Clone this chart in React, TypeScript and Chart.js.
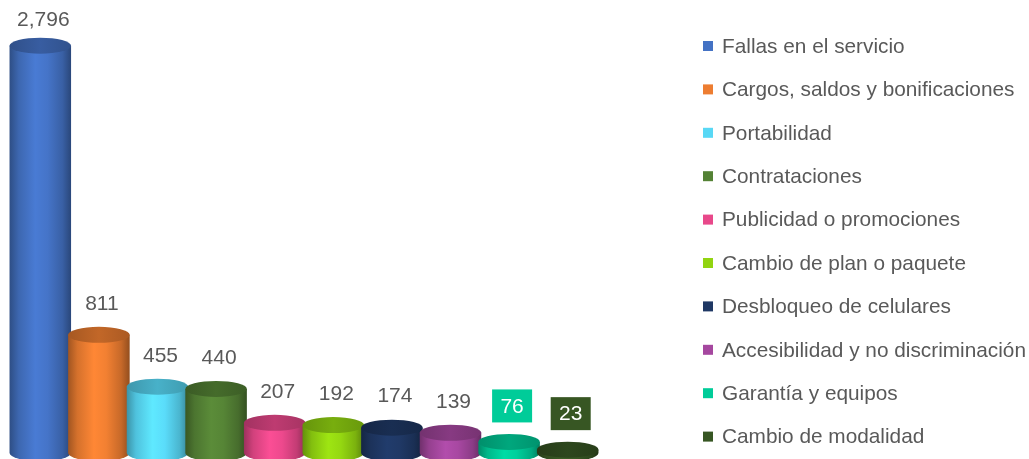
import React, { useEffect, useRef } from "react";
import { Chart, registerables } from "chart.js";

Chart.register(...registerables);

const categories = [
  "Fallas en el servicio",
  "Cargos, saldos y bonificaciones",
  "Portabilidad",
  "Contrataciones",
  "Publicidad o promociones",
  "Cambio de plan o paquete",
  "Desbloqueo de celulares",
  "Accesibilidad y no discriminación",
  "Garantía y equipos",
  "Cambio de modalidad",
];
const values = [2796, 811, 455, 440, 207, 192, 174, 139, 76, 23];
const colors = [
  "#4472C4",
  "#ED7D31",
  "#58D8F5",
  "#548235",
  "#E8488A",
  "#92D411",
  "#1F3864",
  "#A5479F",
  "#00CC99",
  "#375623",
];
const boxedLabels = [false, false, false, false, false, false, false, false, true, true];

function shade(hex: string, f: number): string {
  const n = parseInt(hex.slice(1), 16);
  const r = Math.min(255, Math.round(((n >> 16) & 255) * f));
  const g = Math.min(255, Math.round(((n >> 8) & 255) * f));
  const b = Math.min(255, Math.round((n & 255) * f));
  return `rgb(${r},${g},${b})`;
}

const FONT = '"Liberation Sans", Arial, sans-serif';
const TEXT = "#595959";

const cylinderPlugin = {
  id: "cylinders",
  afterDatasetsDraw(chart: any) {
    const ctx: CanvasRenderingContext2D = chart.ctx;
    const meta = chart.getDatasetMeta(0);
    const ry = 8;
    ctx.save();
    meta.data.forEach((el: any, i: number) => {
      const col = colors[i];
      const rx = (el.width * 1.05) / 2;
      const cx = el.x;
      const top = el.y;
      const base = el.base;
      const g = ctx.createLinearGradient(cx - rx, 0, cx + rx, 0);
      g.addColorStop(0, shade(col, 0.68));
      g.addColorStop(0.15, shade(col, 0.9));
      g.addColorStop(0.42, shade(col, 1.08));
      g.addColorStop(0.62, shade(col, 1.02));
      g.addColorStop(0.86, shade(col, 0.84));
      g.addColorStop(1, shade(col, 0.62));
      ctx.beginPath();
      ctx.moveTo(cx - rx, top);
      ctx.lineTo(cx - rx, base);
      ctx.ellipse(cx, base, rx, ry, 0, Math.PI, 0, true);
      ctx.lineTo(cx + rx, top);
      ctx.closePath();
      ctx.fillStyle = g;
      ctx.fill();
      const gt = ctx.createLinearGradient(cx - rx, 0, cx + rx, 0);
      gt.addColorStop(0, shade(col, 0.7));
      gt.addColorStop(0.5, shade(col, 0.82));
      gt.addColorStop(1, shade(col, 0.72));
      ctx.beginPath();
      ctx.ellipse(cx, top, rx, ry, 0, 0, Math.PI * 2);
      ctx.fillStyle = gt;
      ctx.fill();
    });

    ctx.textAlign = "center";
    ctx.textBaseline = "middle";
    meta.data.forEach((el: any, i: number) => {
      const txt = values[i].toLocaleString("en-US");
      if (boxedLabels[i]) {
        ctx.font = `21px ${FONT}`;
        const cy = el.y - 36;
        const cx = el.x + 3;
        const w = 40;
        const h = 33;
        ctx.fillStyle = colors[i];
        ctx.fillRect(cx - w / 2, cy - h / 2, w, h);
        ctx.fillStyle = "#ffffff";
        ctx.fillText(txt, cx, cy + 1);
      } else {
        ctx.font = `21px ${FONT}`;
        const cy = Math.max(20, el.y - 31);
        ctx.fillStyle = TEXT;
        ctx.fillText(txt, el.x + 3, cy);
      }
    });

    ctx.textAlign = "left";
    ctx.textBaseline = "middle";
    ctx.font = `20.8px ${FONT}`;
    categories.forEach((c, i) => {
      const y = 46 + i * 43.4;
      ctx.fillStyle = colors[i];
      ctx.fillRect(703, y - 5, 10, 10);
      ctx.fillStyle = TEXT;
      ctx.fillText(c, 722, y + 1);
    });
    ctx.restore();
  },
};

export default function App() {
  const ref = useRef<HTMLCanvasElement | null>(null);
  useEffect(() => {
    document.body.style.margin = "0";
    const canvas = ref.current!;
    const chart = new Chart(canvas, {
      type: "bar",
      data: {
        labels: categories,
        datasets: [
          {
            data: values,
            backgroundColor: "rgba(0,0,0,0)",
            borderWidth: 0,
            categoryPercentage: 1,
            barPercentage: 1,
          },
        ],
      },
      options: {
        responsive: false,
        animation: false,
        devicePixelRatio: 1,
        layout: { padding: { left: 11, right: 432, top: 16, bottom: 6 } },
        scales: {
          x: { display: false },
          y: { display: false, min: 0, max: 3000 },
        },
        plugins: {
          legend: { display: false },
          tooltip: { enabled: false },
        },
      },
      plugins: [cylinderPlugin],
    });
    return () => chart.destroy();
  }, []);
  return (
    <div style={{ width: 1029, height: 459, background: "#fff" }}>
      <canvas ref={ref} width={1029} height={459} style={{ display: "block" }} />
    </div>
  );
}
